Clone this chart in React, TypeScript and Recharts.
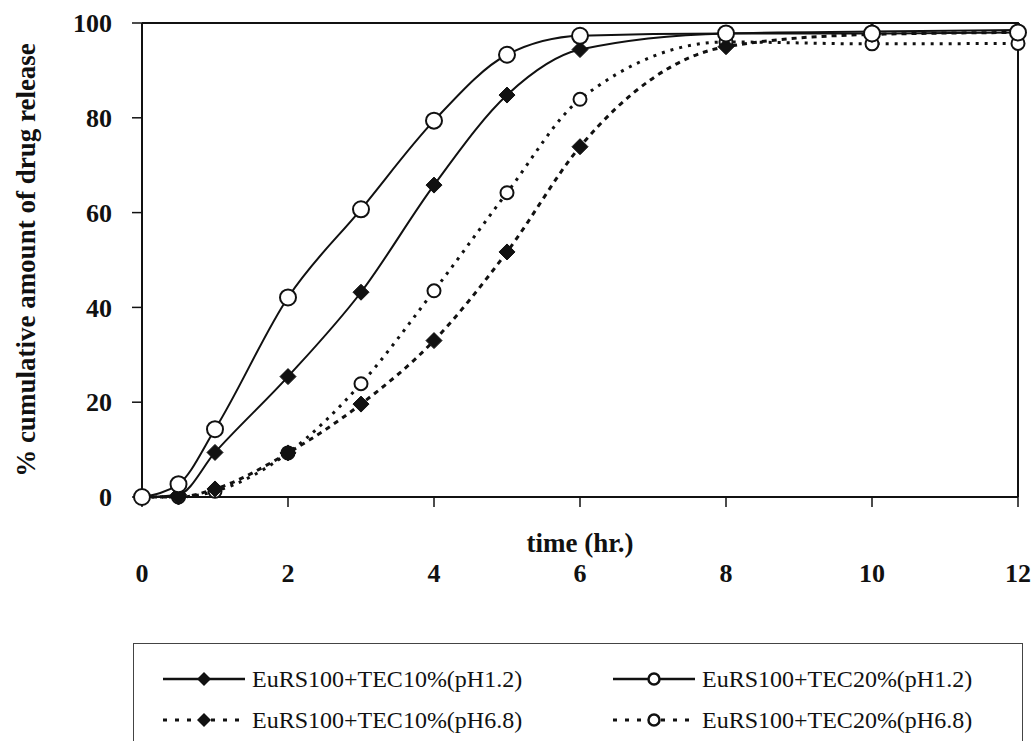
import { LineChart, Line, XAxis, YAxis, ReferenceLine } from "recharts";

const times = [0, 0.5, 1, 2, 3, 4, 5, 6, 8, 10, 12];
const tec10Ph12 = [0, 0.5, 9.4, 25.4, 43.2, 65.8, 84.8, 94.4, 97.8, 98.2, 98.5];
const tec20Ph12 = [0, 2.7, 14.3, 42.1, 60.7, 79.4, 93.3, 97.3, 97.8, 97.8, 98];
const tec10Ph68 = [0, 0, 1.7, 9.3, 19.6, 33, 51.7, 73.9, 95, 97.6, 98];
const tec20Ph68 = [0, 0, 1.2, 9.3, 23.9, 43.5, 64.2, 83.9, 96, 95.6, 95.7];
const xTicks = [0, 2, 4, 6, 8, 10, 12];
const yTicks = [0, 20, 40, 60, 80, 100];

const chartData = times.map((t, i) => ({
  t,
  a: tec10Ph12[i],
  b: tec20Ph12[i],
  c: tec10Ph68[i],
  d: tec20Ph68[i],
}));

const serif = "'Liberation Serif', 'Times New Roman', serif";
const tickStyle = { fontFamily: serif, fontWeight: 700, fontSize: 26, fill: "#111" };
const titleStyle = { fontFamily: serif, fontWeight: 700, fontSize: 27, fill: "#111" };

function diamond(size: number) {
  return (props: any) => {
    const { cx, cy, index } = props;
    if (cx == null || cy == null) return <g key={`dm-${index}`} />;
    const s = size;
    return (
      <path
        key={`dm-${index}-${cx}`}
        d={`M${cx},${cy - s} L${cx + s},${cy} L${cx},${cy + s} L${cx - s},${cy} Z`}
        fill="#111"
        stroke="#111"
        strokeWidth={1}
      />
    );
  };
}

function circle(r: number) {
  return (props: any) => {
    const { cx, cy, index } = props;
    if (cx == null || cy == null) return <g key={`cc-${index}`} />;
    return <circle key={`cc-${index}-${cx}`} cx={cx} cy={cy} r={r} fill="#fff" stroke="#111" strokeWidth={2} />;
  };
}

function Sample({ dashed, marker }: { dashed: boolean; marker: "d" | "o" }) {
  return (
    <svg width={84} height={20} style={{ display: "block" }}>
      <line
        x1={1}
        y1={10}
        x2={83}
        y2={10}
        stroke="#111"
        strokeWidth={dashed ? 3 : 2.5}
        strokeDasharray={dashed ? "4 8" : undefined}
      />
      {marker === "d" ? (
        <path d="M42,3 L49,10 L42,17 L35,10 Z" fill="#111" />
      ) : (
        <circle cx={42} cy={10} r={5.5} fill="#fff" stroke="#111" strokeWidth={2.5} />
      )}
    </svg>
  );
}

const legendItems = [
  { label: "EuRS100+TEC10%(pH1.2)", dashed: false, marker: "d" as const, left: 162, top: 679 },
  { label: "EuRS100+TEC20%(pH1.2)", dashed: false, marker: "o" as const, left: 612, top: 679 },
  { label: "EuRS100+TEC10%(pH6.8)", dashed: true, marker: "d" as const, left: 162, top: 720 },
  { label: "EuRS100+TEC20%(pH6.8)", dashed: true, marker: "o" as const, left: 612, top: 720 },
];

export default function App() {
  return (
    <div style={{ position: "absolute", left: 0, top: 0, width: 1034, height: 741, background: "#fff", overflow: "hidden" }}>
      <LineChart width={1034} height={741} data={chartData} margin={{ top: 23, right: 16, bottom: 0, left: 0 }}>
        <XAxis
          dataKey="t"
          type="number"
          domain={[0, 12]}
          ticks={xTicks}
          height={244}
          tickSize={10}
          tickMargin={57}
          tick={tickStyle}
          axisLine={{ stroke: "#111", strokeWidth: 2 }}
          tickLine={{ stroke: "#111", strokeWidth: 1.5 }}
          label={{ value: "time (hr.)", position: "insideTop", offset: 36, style: titleStyle }}
        />
        <YAxis
          type="number"
          domain={[0, 100]}
          ticks={yTicks}
          width={142}
          tickSize={10}
          tickMargin={20}
          tick={tickStyle}
          axisLine={{ stroke: "#111", strokeWidth: 2 }}
          tickLine={{ stroke: "#111", strokeWidth: 1.5 }}
          label={{
            value: "% cumulative amount of drug release",
            angle: -90,
            position: "center",
            dx: -46,
            style: { ...titleStyle, textAnchor: "middle" },
          }}
        />
        <ReferenceLine y={100} stroke="#111" strokeWidth={2} />
        <ReferenceLine x={12} stroke="#111" strokeWidth={2} />
        <Line
          type="monotone"
          dataKey="d"
          stroke="#111"
          strokeWidth={3}
          strokeDasharray="3 6"
          dot={circle(6.5)}
          isAnimationActive={false}
        />
        <Line
          type="monotone"
          dataKey="c"
          stroke="#111"
          strokeWidth={3}
          strokeDasharray="5 5"
          dot={diamond(8)}
          isAnimationActive={false}
        />
        <Line type="monotone" dataKey="a" stroke="#111" strokeWidth={2} dot={diamond(8)} isAnimationActive={false} />
        <Line type="monotone" dataKey="b" stroke="#111" strokeWidth={2} dot={circle(8)} isAnimationActive={false} />
      </LineChart>
      <div
        style={{
          position: "absolute",
          left: 133,
          top: 643,
          width: 890,
          height: 110,
          borderTop: "1.5px solid #444",
          borderLeft: "1.5px solid #444",
          borderRight: "1.5px solid #444",
          boxSizing: "border-box",
        }}
      />
      {legendItems.map((it) => (
        <div
          key={it.label}
          style={{
            position: "absolute",
            left: it.left,
            top: it.top - 12,
            height: 24,
            display: "flex",
            alignItems: "center",
            fontFamily: serif,
            fontSize: 24,
            color: "#111",
            lineHeight: "24px",
            whiteSpace: "nowrap",
          }}
        >
          <Sample dashed={it.dashed} marker={it.marker} />
          <span style={{ marginLeft: 6 }}>{it.label}</span>
        </div>
      ))}
    </div>
  );
}
